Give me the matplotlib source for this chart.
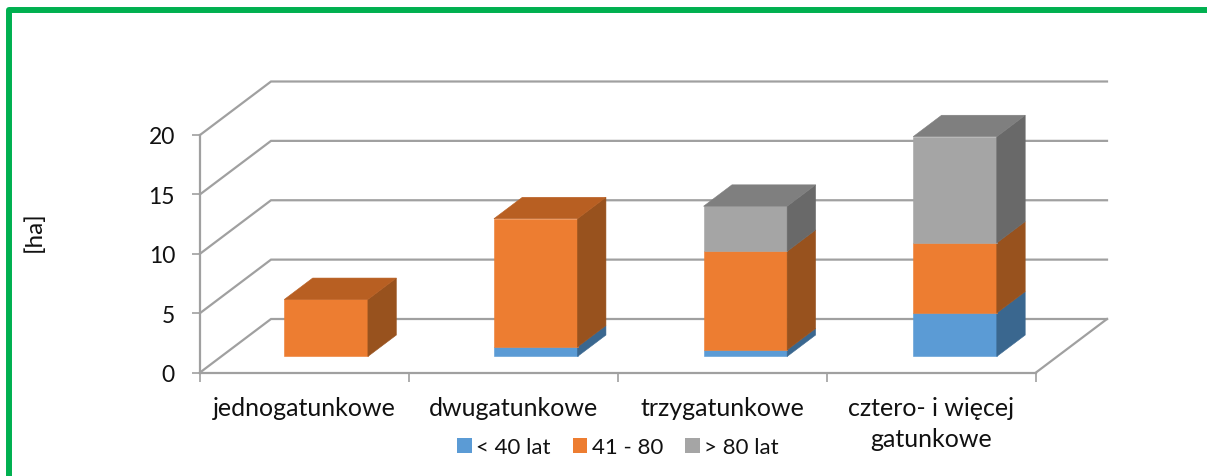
import matplotlib
matplotlib.use("Agg")
import matplotlib.pyplot as plt
from matplotlib.lines import Line2D
from matplotlib.patches import Patch, Polygon

plt.rcParams['font.family'] = ['Lato', 'DejaVu Sans']

categories = ['jednogatunkowe', 'dwugatunkowe', 'trzygatunkowe', 'cztero- i więcej\ngatunkowe']
young = [0.0, 0.8, 0.55, 3.66]
middle = [4.8, 10.8, 8.3, 5.9]
old = [0.0, 0.0, 3.8, 8.95]
series_names = ['< 40 lat', '41 - 80', '> 80 lat']
y_ticks = [0, 5, 10, 15, 20]

W, H = 1207, 477
fig = plt.figure(figsize=(W / 100, H / 100), dpi=100)
L, R, T, B = 200, 1036, 136, 373.5
ax = fig.add_axes([L / W, 1 - B / H, (R - L) / W, (B - T) / H])
ax.set_xlim(0, 4)
ax.set_ylim(0, 20)
for s in ['top', 'right']:
    ax.spines[s].set_visible(False)
GRID = '#A0A0A0'
for s in ['left', 'bottom']:
    ax.spines[s].set_color(GRID)
    ax.spines[s].set_linewidth(1.6)

DX = 71 / (R - L) * 4      # depth offset in category units
DY = 53.5 / (B - T) * 20   # depth offset in value units
D0, D1 = 0.30, 0.70        # bar depth range
SLOT = 1.003               # bar spacing relative to the category spacing


def P(x, y, d):
    return (x + DX * d, y + DY * d)


# walls and floor
for v in y_ticks:
    ax.plot(*zip(P(0, v, 0), P(0, v, 1), P(4, v, 1)), color=GRID, lw=1.6, zorder=1,
            clip_on=False, solid_joinstyle='miter')
ax.plot(*zip(P(4, 0, 0), P(4, 0, 1)), color=GRID, lw=1.6, zorder=1, clip_on=False)

COL = {
    'b': ('#5B9BD5', '#3A678F', '#3F709C'),
    'o': ('#ED7D31', '#98521E', '#B85F22'),
    'g': ('#A5A5A5', '#696969', '#7F7F7F'),
}
BW = 0.2
z = 3
for i in range(len(categories)):
    c = (i + 0.5) * SLOT
    x0, x1 = c - BW, c + BW
    base = 0.0
    segs = [(young[i], 'b'), (middle[i], 'o'), (old[i], 'g')]
    segs = [s for s in segs if s[0] > 0]
    for n, (val, key) in enumerate(segs):
        top = base + val
        front, side, cap = COL[key]
        ax.add_patch(Polygon([P(x0, base, D0), P(x1, base, D0), P(x1, top, D0), P(x0, top, D0)],
                             fc=front, ec=front, lw=0.4, zorder=z, clip_on=False))
        ax.add_patch(Polygon([P(x1, base, D0), P(x1, base, D1), P(x1, top, D1), P(x1, top, D0)],
                             fc=side, ec=side, lw=0.4, zorder=z, clip_on=False))
        if n == len(segs) - 1:
            ax.add_patch(Polygon([P(x0, top, D0), P(x1, top, D0), P(x1, top, D1), P(x0, top, D1)],
                                 fc=cap, ec=cap, lw=0.4, zorder=z, clip_on=False))
        base = top

ax.set_yticks(y_ticks)
ax.set_xticks(range(5))
ax.set_xticklabels([])
ax.set_xticks([i + 0.5 for i in range(4)], labels=categories, minor=True, fontsize=18, color='#111111',
              linespacing=1.4)
ax.tick_params(axis='x', which='minor', length=0, pad=17)
ax.tick_params(axis='x', which='major', length=6.5, width=1.2, color=GRID)
ax.tick_params(axis='y', length=6, width=1.2, color=GRID, labelsize=16.5, pad=12, labelcolor='#111111')
ax.set_ylabel('[ha]', fontsize=17.5, color='#111111')
ax.yaxis.set_label_coords((45 - L) / (R - L), (B - 232) / (B - T))

handles = [Patch(fc=c, ec='none') for c in ('#5B9BD5', '#ED7D31', '#A5A5A5')]
fig.legend(handles, series_names, loc='center', bbox_to_anchor=(618 / W, 1 - 448 / H), ncol=3,
           frameon=False, fontsize=16, handlelength=0.65, handleheight=0.65, handletextpad=0.2,
           columnspacing=1.0, labelcolor='#111111', borderpad=0)

fig.add_artist(Line2D([9 / W, 9 / W, 1.0], [0, 1 - 11.3 / H, 1 - 11.3 / H], color='#00B050', lw=4.3,
                      solid_joinstyle='round', transform=fig.transFigure))
fig.savefig('out.png', dpi=100)
